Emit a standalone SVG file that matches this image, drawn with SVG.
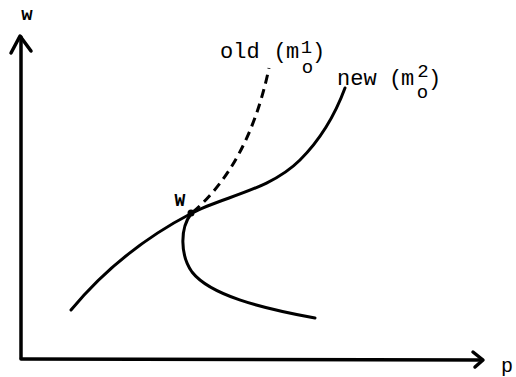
<svg xmlns="http://www.w3.org/2000/svg" width="516" height="377" viewBox="0 0 516 377">
  <style>
    .ln { fill: none; stroke: #000; stroke-width: 3; stroke-linecap: round; stroke-linejoin: round; }
    .ax { fill: none; stroke: #000; stroke-width: 3.5; stroke-linecap: round; stroke-linejoin: round; }
    .dash { stroke-dasharray: 9 6; stroke-linecap: butt; }
    text { font-family: "Liberation Mono", "DejaVu Sans Mono", monospace; fill: #000; }
    .lbl { font-size: 22px; }
    .sm { font-size: 19px; }
  </style>
  <rect width="516" height="377" fill="#fff"/>
  <g id="axes">
    <path class="ax" d="M21,358 L21,37"/>
    <path class="ax" d="M11,53 L20,36 L31,51"/>
    <path class="ax" d="M21,359 L482,360"/>
    <path class="ax" d="M473,352 L483,360 L475,367"/>
    <text x="27" y="20" class="sm" font-weight="bold" text-anchor="middle">w</text>
    <text x="507" y="372" font-size="20" text-anchor="middle">p</text>
  </g>
  <g id="connectors">
    <path id="new-curve" class="ln" d="M71,310 C100,275 140,240 192,213 C225,196 270,190 300,160 C320,140 335,115 345,88"/>
    <path id="lower-branch" class="ln" d="M191,214 C180,228 180,255 192,272 C210,295 260,308 315,318"/>
    <path id="old-curve" class="ln dash" d="M193,212 C228,182 255,135 269,68"/>
  </g>
  <g id="point-W">
    <circle cx="191" cy="213" r="3.5" fill="#000"/>
    <text x="180" y="206" font-size="18" font-weight="bold" text-anchor="middle">W</text>
  </g>
  <g id="label-old">
    <text x="220" y="58" class="lbl">old</text>
    <text x="273.5" y="58" class="lbl">(</text>
    <text x="286" y="58" class="lbl">m</text>
    <text x="306.5" y="53" class="sm" text-anchor="middle">1</text>
    <text x="307.5" y="73" class="sm" text-anchor="middle">o</text>
    <text x="312" y="58" class="lbl">)</text>
  </g>
  <g id="label-new">
    <text x="337" y="85" class="lbl">new</text>
    <text x="389" y="85" class="lbl">(</text>
    <text x="401" y="85" class="lbl">m</text>
    <text x="423" y="77" class="sm" text-anchor="middle">2</text>
    <text x="422.5" y="98" class="sm" text-anchor="middle">o</text>
    <text x="428" y="85" class="lbl">)</text>
  </g>
</svg>
